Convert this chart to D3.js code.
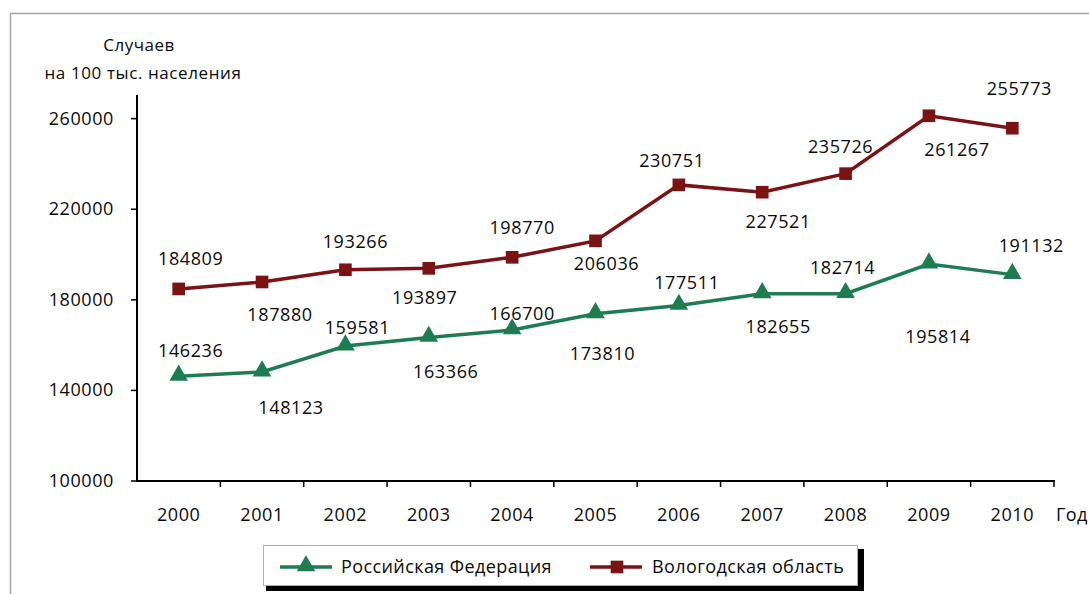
<!DOCTYPE html>
<html>
<head>
<meta charset="utf-8">
<script src="https://cdnjs.cloudflare.com/ajax/libs/d3/7.8.5/d3.min.js"></script>
<style>
  body { margin: 0; background: #fff; }
  text { font-family: "Open Sans", sans-serif; fill: #0a0a0a; }
</style>
</head>
<body>
<div id="main"></div>
<script>
// data
var years = ["2000","2001","2002","2003","2004","2005","2006","2007","2008","2009","2010"];
var russia = [146236,148123,159581,163366,166700,173810,177511,182655,182714,195814,191132];
var vologda = [184809,187880,193266,193897,198770,206036,230751,227521,235726,261267,255773];
var yTicks = [100000,140000,180000,220000,260000];
var seriesNames = ["Российская Федерация", "Вологодская область"];

// label placement (dx, dy from point), alternating above / below like the original
var vologdaLabelOff = [[12,-30],[18,33],[10,-28],[-4,30],[10,-29],[11,23],[-7,-24],[16,30],[-5,-27],[28,34],[7,-39]];
var russiaLabelOff  = [[12,-25],[29,36],[12,-18],[17,35],[10,-16],[7,40],[8,-22],[16,33],[-3,-26],[9,73],[19,-29]];

var svg = d3.select("#main").append("svg")
    .attr("width", 1089)
    .attr("height", 594);

// outer frame
svg.append("path")
    .attr("d", "M10.5,594 L10.5,13.5 L1089,13.5")
    .attr("fill", "none")
    .attr("stroke", "#a6a6a6")
    .attr("stroke-width", 1.5);

var x = d3.scaleBand().domain(years).range([137, 1054]).padding(0);
var y = d3.scaleLinear().domain([100000, 270000]).range([481, 96]);
var cx = function(d, i) { return x(years[i]) + x.bandwidth() / 2; };

// y axis
svg.append("line").attr("x1", 137).attr("x2", 137).attr("y1", 95).attr("y2", 481)
    .attr("stroke", "#000").attr("stroke-width", 2);
svg.selectAll(".ytick").data(yTicks).enter().append("line")
    .attr("x1", 131).attr("x2", 137)
    .attr("y1", d => y(d)).attr("y2", d => y(d))
    .attr("stroke", "#000").attr("stroke-width", 1.5);
svg.selectAll(".ylab").data(yTicks).enter().append("text")
    .attr("x", 114).attr("y", d => y(d) + 6)
    .attr("text-anchor", "end")
    .style("font-size", "18px").style("letter-spacing", "0.6px")
    .text(d => d);

// x axis
svg.append("line").attr("x1", 136).attr("x2", 1055).attr("y1", 481).attr("y2", 481)
    .attr("stroke", "#000").attr("stroke-width", 2);
var bounds = years.map(d => x(d) + x.bandwidth()).slice(0, -1).concat([1054]);
svg.selectAll(".xtick").data(bounds).enter().append("line")
    .attr("x1", d => d).attr("x2", d => d).attr("y1", 481).attr("y2", 487)
    .attr("stroke", "#000").attr("stroke-width", 1.5);
svg.selectAll(".xlab").data(years).enter().append("text")
    .attr("x", d => x(d) + x.bandwidth() / 2).attr("y", 521)
    .attr("text-anchor", "middle")
    .style("font-size", "18px").style("letter-spacing", "0.6px")
    .text(d => d);
svg.append("text").attr("x", 1056).attr("y", 521)
    .style("font-size", "18px").style("letter-spacing", "0.4px").text("Год");

// axis title
svg.append("text").attr("x", 139).attr("y", 51).attr("text-anchor", "middle")
    .style("font-size", "17px").style("letter-spacing", "0.5px").text("Случаев");
svg.append("text").attr("x", 143).attr("y", 79).attr("text-anchor", "middle")
    .style("font-size", "17px").style("letter-spacing", "0.6px").text("на 100 тыс. населения");

var green = "#1d7d51", red = "#7b1214";
var line = d3.line().x(cx).y(d => y(d));

svg.append("path").datum(vologda).attr("d", line)
    .attr("fill", "none").attr("stroke", red).attr("stroke-width", 3.5);
svg.append("path").datum(russia).attr("d", line)
    .attr("fill", "none").attr("stroke", green).attr("stroke-width", 3.5);

var sq = d3.symbol().type(d3.symbolSquare).size(160);
var tri = d3.symbol().type(d3.symbolTriangle).size(150);

svg.selectAll(".vm").data(vologda).enter().append("path")
    .attr("d", sq)
    .attr("transform", (d, i) => "translate(" + cx(d, i) + "," + y(d) + ")")
    .attr("fill", red);
svg.selectAll(".rm").data(russia).enter().append("path")
    .attr("d", tri)
    .attr("transform", (d, i) => "translate(" + cx(d, i) + "," + (y(d) - 1) + ")")
    .attr("fill", green);

function labels(data, off) {
  svg.selectAll(null).data(data).enter().append("text")
      .attr("x", (d, i) => cx(d, i) + off[i][0])
      .attr("y", (d, i) => y(d) + off[i][1] + 6)
      .attr("text-anchor", "middle")
      .style("font-size", "18px").style("letter-spacing", "0.6px")
      .text(d => d);
}
labels(vologda, vologdaLabelOff);
labels(russia, russiaLabelOff);

// legend
var lg = svg.append("g");
lg.append("rect").attr("x", 266).attr("y", 549).attr("width", 598).attr("height", 42).attr("fill", "#000");
lg.append("rect").attr("x", 263.5).attr("y", 545.5).attr("width", 594).attr("height", 40)
    .attr("fill", "#fff").attr("stroke", "#b0b0b0").attr("stroke-width", 1);

lg.append("line").attr("x1", 280).attr("x2", 332).attr("y1", 567).attr("y2", 567)
    .attr("stroke", green).attr("stroke-width", 3.5);
lg.append("path").attr("d", tri).attr("transform", "translate(306,566)").attr("fill", green);
lg.append("text").attr("x", 341).attr("y", 573)
    .style("font-size", "18px").style("letter-spacing", "0.4px").text(seriesNames[0]);

lg.append("line").attr("x1", 590).attr("x2", 642).attr("y1", 567).attr("y2", 567)
    .attr("stroke", red).attr("stroke-width", 3.5);
lg.append("path").attr("d", sq).attr("transform", "translate(617,567)").attr("fill", red);
lg.append("text").attr("x", 652).attr("y", 573)
    .style("font-size", "18px").style("letter-spacing", "0.4px").text(seriesNames[1]);
</script>
</body>
</html>
